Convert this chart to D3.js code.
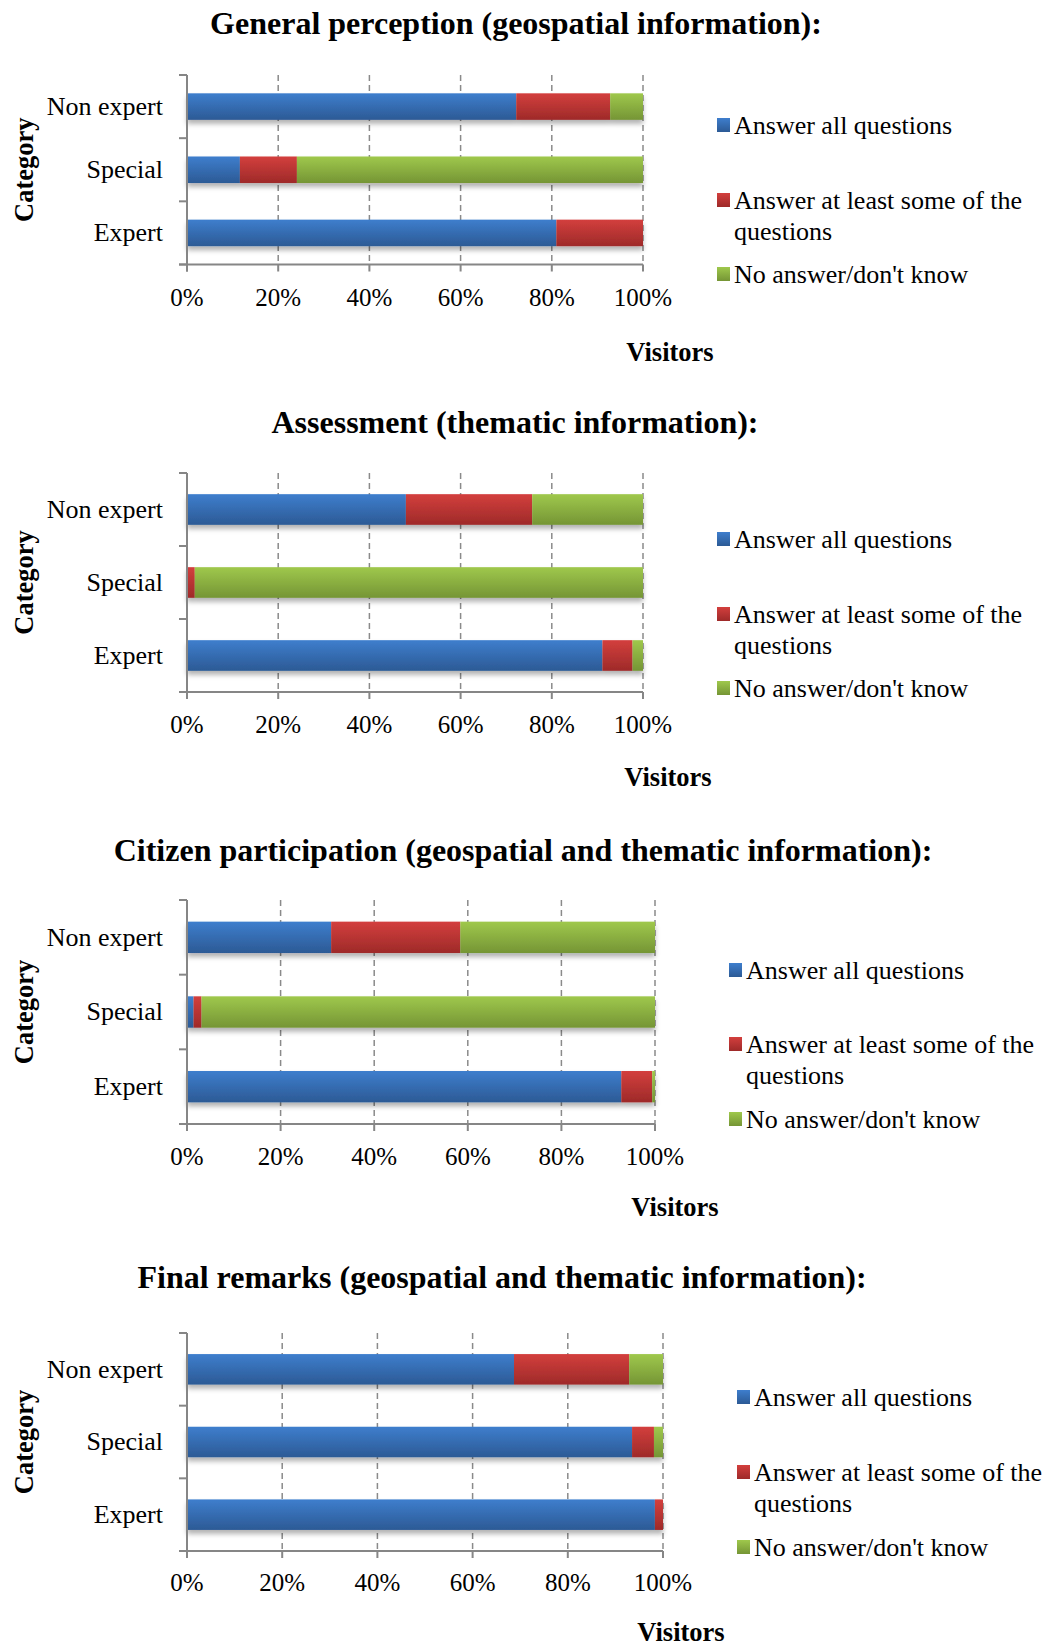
<!DOCTYPE html>
<html>
<head>
<meta charset="utf-8">
<script src="https://cdn.jsdelivr.net/npm/d3@7"></script>
<style>
  body { margin: 0; background: #fff; }
  svg text { font-family: "Liberation Serif", "Times New Roman", serif; fill: #000; }
</style>
</head>
<body>
<div id="chart"></div>
<script>
// categories, series and ticks
var categories = ["Non expert", "Special", "Expert"];
var seriesNames = ["Answer all questions", "Answer at least some of the questions", "No answer/don't know"];
var xTicks = [0, 20, 40, 60, 80, 100];

// percent per category (Non expert, Special, Expert)
var generalAll = [72.2, 11.6, 81.0];
var generalSome = [20.6, 12.5, 19.0];
var generalNone = [7.2, 75.9, 0];

var assessAll = [48.0, 0, 91.1];
var assessSome = [27.7, 1.7, 6.6];
var assessNone = [24.3, 98.3, 2.3];

var citizenAll = [30.8, 1.4, 92.8];
var citizenSome = [27.6, 1.7, 6.6];
var citizenNone = [41.6, 96.9, 0.6];

var finalAll = [68.7, 93.5, 98.3];
var finalSome = [24.2, 4.6, 1.7];
var finalNone = [7.1, 1.9, 0];

var titles = [
  "General perception (geospatial information):",
  "Assessment (thematic information):",
  "Citizen participation (geospatial and thematic information):",
  "Final remarks (geospatial and thematic information):"
];

var width = 1054;
var height = 1648;

// layout for each panel
var panels = [
  {title: titles[0], data: [generalAll, generalSome, generalNone], titleX: 516, titleY: 23,
   x0: 187, x1: 643, y0: 75, y1: 264.5, tickY: 297, visX: 670, visY: 352,
   legX: 717, legY: [125, 200, 231, 274]},
  {title: titles[1], data: [assessAll, assessSome, assessNone], titleX: 515, titleY: 422,
   x0: 187, x1: 643, y0: 473, y1: 692, tickY: 724, visX: 668, visY: 777,
   legX: 717, legY: [539, 614, 645, 688]},
  {title: titles[2], data: [citizenAll, citizenSome, citizenNone], titleX: 523, titleY: 850,
   x0: 187, x1: 655, y0: 900, y1: 1124, tickY: 1156, visX: 675, visY: 1207,
   legX: 729, legY: [970, 1044, 1075, 1119]},
  {title: titles[3], data: [finalAll, finalSome, finalNone], titleX: 502, titleY: 1277,
   x0: 187, x1: 663, y0: 1333, y1: 1551, tickY: 1582, visX: 681, visY: 1632,
   legX: 737, legY: [1397, 1472, 1503, 1547]}
];

var colors = [
  {top: "#3e7ecd", bottom: "#2c5a95"},
  {top: "#d33f3d", bottom: "#9e2a29"},
  {top: "#9fc84c", bottom: "#759535"}
];

const svg = d3.select("#chart")
  .append("svg")
  .attr("width", width)
  .attr("height", height);

var defs = svg.append("defs");
colors.forEach(function(c, i) {
  var g = defs.append("linearGradient")
    .attr("id", "grad" + i)
    .attr("x1", 0).attr("y1", 0).attr("x2", 0).attr("y2", 1);
  g.append("stop").attr("offset", "0%").attr("stop-color", c.top);
  g.append("stop").attr("offset", "100%").attr("stop-color", c.bottom);
});
defs.append("filter")
  .attr("id", "shadow")
  .attr("x", "-5%").attr("y", "-20%").attr("width", "110%").attr("height", "160%")
  .append("feDropShadow")
  .attr("dx", 0).attr("dy", 4).attr("stdDeviation", 2.5)
  .attr("flood-color", "#000").attr("flood-opacity", 0.3);

panels.forEach(function(p) {
  var g = svg.append("g");

  var x = d3.scaleLinear().domain([0, 100]).range([p.x0, p.x1]);
  var y = d3.scaleBand().domain(categories).range([p.y0, p.y1]).paddingInner(0.58).paddingOuter(0.29);
  var band = d3.scaleBand().domain(categories).range([p.y0, p.y1]);

  // title
  g.append("text")
    .attr("x", p.titleX).attr("y", p.titleY)
    .attr("text-anchor", "middle").attr("dominant-baseline", "central")
    .style("font-size", "32px").style("font-weight", "bold")
    .text(p.title);

  // dashed grid
  g.selectAll(".grid")
    .data(xTicks.slice(1))
    .enter().append("line")
    .attr("x1", (d) => x(d)).attr("x2", (d) => x(d))
    .attr("y1", p.y0).attr("y2", p.y1)
    .attr("stroke", "#8a8a8a").attr("stroke-width", 1.5)
    .attr("stroke-dasharray", "6,4");

  // stacked bars
  var stacked = categories.map(function(c, i) {
    var start = 0;
    return p.data.map(function(arr, s) {
      var seg = {cat: c, s: s, a: start, b: start + arr[i]};
      start += arr[i];
      return seg;
    });
  });

  var rows = g.selectAll(".row")
    .data(stacked)
    .enter().append("g")
    .attr("filter", "url(#shadow)");

  rows.selectAll("rect")
    .data((d) => d.filter((seg) => seg.b - seg.a > 0))
    .enter().append("rect")
    .attr("x", (d) => x(d.a))
    .attr("width", (d) => x(d.b) - x(d.a))
    .attr("y", (d) => y(d.cat))
    .attr("height", y.bandwidth())
    .attr("fill", (d) => "url(#grad" + d.s + ")");

  // y axis
  var yAxis = d3.axisLeft(band).tickSize(0).tickPadding(24);
  var ya = g.append("g").attr("transform", "translate(" + p.x0 + ",0)").call(yAxis);
  ya.select(".domain").remove();
  ya.selectAll("text").style("font-size", "26px").attr("dy", "0.32em");
  var bounds = [p.y0].concat(categories.map((c) => band(c) + band.bandwidth()));
  g.selectAll(".ytick")
    .data(bounds)
    .enter().append("line")
    .attr("x1", p.x0 - 8).attr("x2", p.x0)
    .attr("y1", (d) => d).attr("y2", (d) => d)
    .attr("stroke", "#868686").attr("stroke-width", 2);
  g.append("line")
    .attr("x1", p.x0).attr("x2", p.x0)
    .attr("y1", p.y0).attr("y2", p.y1 + 7)
    .attr("stroke", "#868686").attr("stroke-width", 2);

  // x axis
  g.append("line")
    .attr("x1", p.x0 - 8).attr("x2", p.x1)
    .attr("y1", p.y1).attr("y2", p.y1)
    .attr("stroke", "#868686").attr("stroke-width", 2);
  g.selectAll(".xtick")
    .data(xTicks)
    .enter().append("line")
    .attr("x1", (d) => x(d)).attr("x2", (d) => x(d))
    .attr("y1", p.y1).attr("y2", p.y1 + 7)
    .attr("stroke", "#868686").attr("stroke-width", 2);
  g.selectAll(".xlabel")
    .data(xTicks)
    .enter().append("text")
    .attr("x", (d) => x(d)).attr("y", p.tickY)
    .attr("text-anchor", "middle").attr("dominant-baseline", "central")
    .style("font-size", "25px")
    .text((d) => d + "%");

  // axis titles
  g.append("text")
    .attr("x", p.visX).attr("y", p.visY)
    .attr("text-anchor", "middle").attr("dominant-baseline", "central")
    .style("font-size", "26.5px").style("font-weight", "bold")
    .text("Visitors");
  g.append("text")
    .attr("transform", "translate(24," + ((p.y0 + p.y1) / 2) + ") rotate(-90)")
    .attr("text-anchor", "middle").attr("dominant-baseline", "central")
    .style("font-size", "26.5px").style("font-weight", "bold")
    .text("Category");

  // legend
  var legRows = [
    {s: 0, text: seriesNames[0], y: p.legY[0], box: true},
    {s: 1, text: "Answer at least some of the", y: p.legY[1], box: true},
    {s: 1, text: "questions", y: p.legY[2], box: false},
    {s: 2, text: seriesNames[2], y: p.legY[3], box: true}
  ];
  var leg = g.selectAll(".leg")
    .data(legRows)
    .enter().append("g");
  leg.filter((d) => d.box).append("rect")
    .attr("x", p.legX).attr("y", (d) => d.y - 7)
    .attr("width", 13).attr("height", 14)
    .attr("fill", (d) => "url(#grad" + d.s + ")");
  leg.append("text")
    .attr("x", p.legX + 17).attr("y", (d) => d.y)
    .attr("dominant-baseline", "central")
    .style("font-size", "26px")
    .text((d) => d.text);
});
</script>
</body>
</html>
